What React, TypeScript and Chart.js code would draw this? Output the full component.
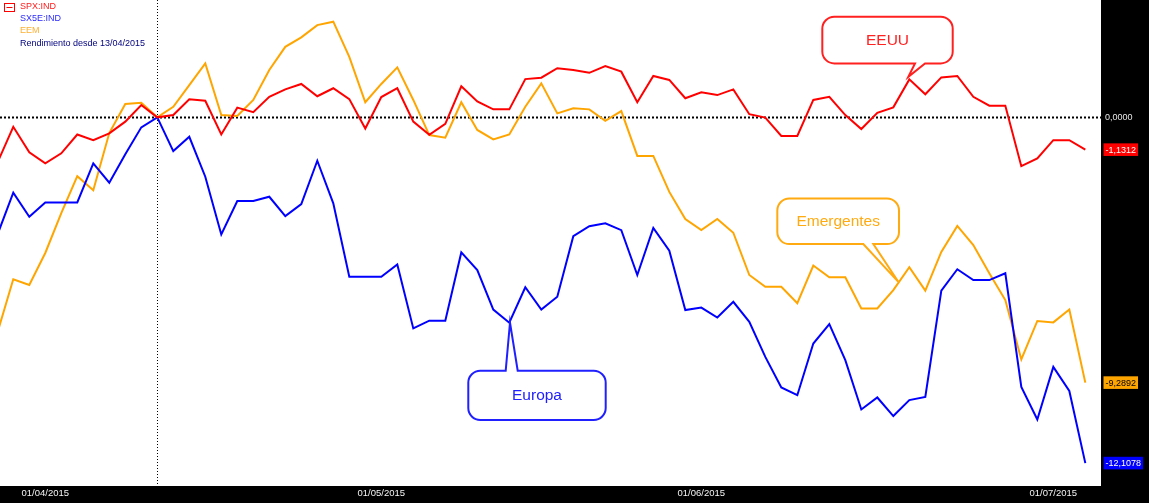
import React, { useEffect, useRef } from "react";
import { Chart, registerables } from "chart.js";

Chart.register(...registerables);

// Trading-day index 0..68 (index 10 = 13/04/2015, base of the returns)
const tickIndex = [3, 24, 44, 66];
const tickLabels = ["01/04/2015", "01/05/2015", "01/06/2015", "01/07/2015"];

const seriesNames = ["SPX:IND", "SX5E:IND", "EEM"];
const legendNote = "Rendimiento desde 13/04/2015";

const spx = [
  -1.60, -0.33, -1.22, -1.61, -1.26, -0.60, -0.80, -0.56, -0.15, 0.43,
  0.00, 0.08, 0.63, 0.58, -0.60, 0.34, 0.18, 0.72, 0.98, 1.17,
  0.74, 1.02, 0.64, -0.39, 0.71, 1.02, -0.15, -0.61, -0.23, 1.09,
  0.56, 0.28, 0.28, 1.34, 1.39, 1.72, 1.66, 1.56, 1.80, 1.60,
  0.53, 1.45, 1.31, 0.67, 0.88, 0.78, 0.98, 0.11, -0.01, -0.65,
  -0.65, 0.61, 0.72, 0.08, -0.41, 0.16, 0.35, 1.33, 0.81, 1.40,
  1.45, 0.72, 0.41, 0.41, -1.71, -1.44, -0.80, -0.80, -1.1312,
];

const sx5e = [
  -4.12, -2.64, -3.48, -2.98, -2.98, -2.98, -1.61, -2.29, -1.29, -0.35,
  0.00, -1.18, -0.68, -2.08, -4.10, -2.93, -2.93, -2.78, -3.46, -3.04,
  -1.52, -3.01, -5.58, -5.58, -5.58, -5.15, -7.39, -7.12, -7.12, -4.73,
  -5.35, -6.73, -7.19, -5.95, -6.73, -6.28, -4.16, -3.81, -3.71, -3.95,
  -5.52, -3.87, -4.67, -6.75, -6.66, -7.01, -6.46, -7.16, -8.39, -9.46,
  -9.73, -7.92, -7.24, -8.50, -10.23, -9.81, -10.46, -9.90, -9.79, -6.07,
  -5.32, -5.70, -5.70, -5.46, -9.44, -10.58, -8.74, -9.58, -12.1078,
];

const eem = [
  -7.56, -5.67, -5.87, -4.75, -3.35, -2.06, -2.55, -0.55, 0.47, 0.51,
  0.00, 0.37, 1.13, 1.89, 0.08, 0.05, 0.61, 1.66, 2.47, 2.80,
  3.23, 3.35, 2.12, 0.53, 1.17, 1.75, 0.61, -0.62, -0.71, 0.53,
  -0.44, -0.77, -0.60, 0.37, 1.19, 0.14, 0.32, 0.28, -0.12, 0.22,
  -1.35, -1.35, -2.61, -3.56, -3.95, -3.56, -4.04, -5.52, -5.93, -5.93,
  -6.51, -5.19, -5.60, -5.60, -6.69, -6.69, -6.05, -5.25, -6.07, -4.71,
  -3.80, -4.47, -5.46, -6.40, -8.48, -7.13, -7.18, -6.73, -9.2892,
];

const baseIndex = 10;

const calloutTexts = ["EEUU", "Europa", "Emergentes"];
const calloutSeries = [0, 1, 2];
const calloutAnchor = [57, 32, 56];

const COLORS = ["#ff0000", "#0000ff", "#ffa500"];
const LABEL_TEXT = ["#ffffff", "#ffffff", "#000000"];
const LEGEND_COLORS = ["#ff1a1a", "#2a2aff", "#ffb030"];
const CALLOUT_COLORS = ["#ff2020", "#2020ff", "#ffaa10"];

// layout of callouts relative to their anchor point (pixels)
const calloutLayout = [
  { dx: -87, dy: -62.6, w: 130.4, h: 46.6, side: "bottom", n1: 5.7, n2: 15.7, tx: -1, ty: -2.6 },
  { dx: -41, dy: 48, w: 137.4, h: 49.3, side: "top", n1: -3.6, n2: 8.4, tx: 0.7, ty: 0 },
  { dx: -116, dy: -91.7, w: 121.7, h: 45.7, side: "bottom", n1: -30, n2: -20, tx: 5, ty: -8.3 },
];

const fmt = (v: number) => v.toFixed(4).replace(".", ",");
const FONT = "Liberation Sans, Arial, sans-serif";

function drawCallout(ctx: CanvasRenderingContext2D, ax: number, ay: number, L: any, color: string, text: string) {
  const x = ax + L.dx, y = ay + L.dy, w = L.w, h = L.h, r = 12;
  const tipX = ax + L.tx, tipY = ay + L.ty;
  ctx.save();
  ctx.beginPath();
  ctx.moveTo(x + r, y);
  if (L.side === "top") {
    ctx.lineTo(ax + L.n1, y);
    ctx.lineTo(tipX, tipY);
    ctx.lineTo(ax + L.n2, y);
  }
  ctx.lineTo(x + w - r, y);
  ctx.arcTo(x + w, y, x + w, y + r, r);
  ctx.lineTo(x + w, y + h - r);
  ctx.arcTo(x + w, y + h, x + w - r, y + h, r);
  if (L.side === "bottom") {
    ctx.lineTo(ax + L.n2, y + h);
    ctx.lineTo(tipX, tipY);
    ctx.lineTo(ax + L.n1, y + h);
  }
  ctx.lineTo(x + r, y + h);
  ctx.arcTo(x, y + h, x, y + h - r, r);
  ctx.lineTo(x, y + r);
  ctx.arcTo(x, y, x + r, y, r);
  ctx.closePath();
  ctx.fillStyle = "#ffffff";
  ctx.fill();
  ctx.lineWidth = 2;
  ctx.strokeStyle = color;
  ctx.stroke();
  ctx.fillStyle = color;
  ctx.font = `15.5px ${FONT}`;
  ctx.textAlign = "center";
  ctx.textBaseline = "middle";
  ctx.fillText(text, x + w / 2, y + h / 2 + 0.5);
  ctx.restore();
}

const decorPlugin = {
  id: "decor",
  beforeDraw(chart: any) {
    const { ctx, chartArea: a, width, height } = chart;
    ctx.save();
    ctx.fillStyle = "#000000";
    ctx.fillRect(0, 0, width, height);
    ctx.fillStyle = "#ffffff";
    ctx.fillRect(a.left, a.top, a.right - a.left, a.bottom - a.top);
    ctx.restore();
  },
  beforeDatasetsDraw(chart: any) {
    const { ctx, chartArea: a, scales } = chart;
    const y0 = Math.round(scales.y.getPixelForValue(0)) + 0.5;
    const xb = Math.round(scales.x.getPixelForValue(baseIndex)) + 0.5;
    ctx.save();
    ctx.strokeStyle = "#000000";
    ctx.lineWidth = 1;
    ctx.setLineDash([1, 2]);
    ctx.beginPath();
    ctx.moveTo(xb, a.top);
    ctx.lineTo(xb, a.bottom);
    ctx.stroke();
    ctx.lineWidth = 2;
    ctx.setLineDash([2, 2]);
    ctx.beginPath();
    ctx.moveTo(a.left, y0);
    ctx.lineTo(a.right, y0);
    ctx.stroke();
    ctx.restore();
  },
  afterDatasetsDraw(chart: any) {
    const { ctx } = chart;
    calloutTexts.forEach((t, k) => {
      const el = chart.getDatasetMeta(calloutSeries[k]).data[calloutAnchor[k]];
      drawCallout(ctx, el.x, el.y, calloutLayout[k], CALLOUT_COLORS[k], t);
    });
  },
  afterDraw(chart: any) {
    const { ctx, chartArea: a, scales } = chart;
    ctx.save();
    // legend
    ctx.strokeStyle = "#ff0000";
    ctx.lineWidth = 1;
    ctx.strokeRect(4.5, 3.5, 10, 8);
    ctx.beginPath();
    ctx.moveTo(6.5, 7.5);
    ctx.lineTo(12.5, 7.5);
    ctx.stroke();
    ctx.font = `9px ${FONT}`;
    ctx.textAlign = "left";
    ctx.textBaseline = "middle";
    const legendRows = [...seriesNames, legendNote];
    const legendCols = [...LEGEND_COLORS, "#000080"];
    legendRows.forEach((t, i) => {
      ctx.fillStyle = legendCols[i];
      ctx.fillText(t, 20, 6.5 + i * 12.2);
    });
    // last-value boxes on right axis
    const datasets = [spx, sx5e, eem];
    ctx.font = `9px ${FONT}`;
    datasets.forEach((d, i) => {
      const v = d[d.length - 1];
      const y = scales.y.getPixelForValue(v);
      const txt = fmt(v);
      const tw = ctx.measureText(txt).width;
      const bx = a.right + 2.5;
      ctx.fillStyle = COLORS[i];
      ctx.fillRect(bx, y - 6.3, tw + 4, 12.6);
      ctx.fillStyle = LABEL_TEXT[i];
      ctx.fillText(txt, bx + 2, y + 0.5);
    });
    ctx.restore();
  },
};

export default function App() {
  const ref = useRef<HTMLCanvasElement | null>(null);
  useEffect(() => {
    document.body.style.margin = "0";
    const canvas = ref.current!;
    const mk = (vals: number[]) => vals.map((v, i) => ({ x: i, y: v }));
    const chart = new Chart(canvas, {
      type: "line",
      data: {
        datasets: [spx, sx5e, eem].map((vals, i) => ({
          label: seriesNames[i],
          data: mk(vals),
          borderColor: COLORS[i],
          backgroundColor: COLORS[i],
          borderWidth: 2,
          pointRadius: 0,
          tension: 0,
          fill: false,
        })),
      },
      options: {
        animation: false,
        responsive: false,
        devicePixelRatio: 1,
        layout: { padding: 0 },
        plugins: { legend: { display: false }, tooltip: { enabled: false } },
        events: [],
        scales: {
          x: {
            type: "linear",
            min: 0.17,
            max: 68.98,
            grid: { display: false, drawTicks: false },
            border: { display: false },
            afterBuildTicks: (s: any) => {
              s.ticks = tickIndex.map((v) => ({ value: v }));
            },
            afterFit: (s: any) => {
              s.height = 17;
              s.paddingLeft = 0;
              s.paddingRight = 0;
              s.paddingTop = 0;
              s.paddingBottom = 0;
            },
            ticks: {
              autoSkip: false,
              maxRotation: 0,
              padding: 2,
              color: "#f4f4f4",
              font: { family: FONT, size: 9.5 },
              callback: (v: any) => tickLabels[tickIndex.indexOf(Number(v))] ?? "",
            },
          },
          y: {
            type: "linear",
            position: "right",
            min: -12.91,
            max: 4.11,
            grid: { display: false, drawTicks: false },
            border: { display: false },
            afterBuildTicks: (s: any) => {
              s.ticks = [{ value: 0 }];
            },
            afterFit: (s: any) => {
              s.width = 48;
              s.paddingTop = 0;
              s.paddingBottom = 0;
              s.paddingLeft = 0;
              s.paddingRight = 0;
            },
            ticks: {
              padding: 4,
              color: "#e8e8e8",
              font: { family: FONT, size: 9 },
              callback: (v: any) => fmt(Number(v)),
            },
          },
        },
      },
      plugins: [decorPlugin],
    });
    return () => chart.destroy();
  }, []);
  return (
    <div style={{ width: 1149, height: 503 }}>
      <canvas ref={ref} width={1149} height={503} style={{ display: "block" }} />
    </div>
  );
}
